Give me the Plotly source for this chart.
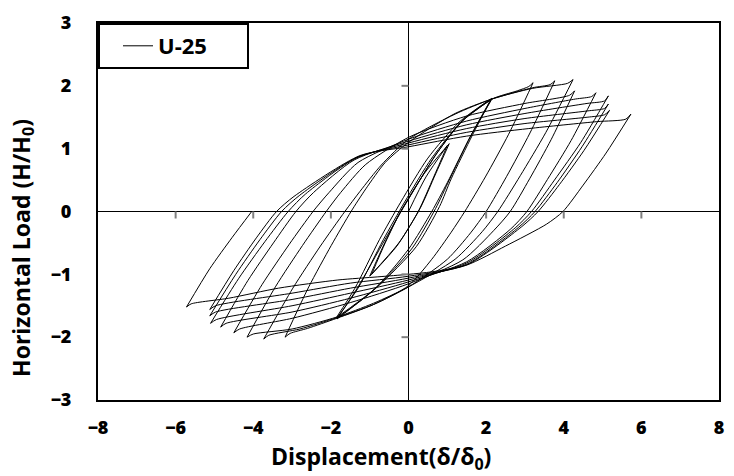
import plotly.graph_objects as go

# ---- hysteresis path, read point by point (displacement δ/δ0, load H/H0) ----
# small elastic cycles (±1), then three ±2 cycles
initial_x = [0.0, 0.45, 1.0, 0.65, 0.25, -0.3, -0.95, -0.6, -0.2, 0.4, 1.05, 0.7, 0.3, -0.25, -1.0, -0.65, -0.25,
             0.0, 0.7, 1.4, 2.15, 1.6, 1.0, 0.6, 0.0, -0.9, -1.85,
             -1.3, -0.65, -0.1, 0.6, 1.35, 2.12, 1.6, 1.05, 0.7, 0.1, -0.85, -1.86,
             -1.38, -0.75, -0.2, 0.5, 1.3, 2.14, 1.65, 1.1, 0.8, 0.2, -0.8, -1.84]
initial_y = [0.0, 0.55, 1.05, 0.55, 0.0, -0.55, -1.0, -0.5, 0.0, 0.6, 1.08, 0.6, 0.05, -0.5, -1.03, -0.55, -0.05,
             0.2, 0.9, 1.45, 1.79, 1.2, 0.46, 0.0, -0.6, -1.25, -1.7,
             -1.22, -0.45, 0.15, 0.85, 1.42, 1.78, 1.2, 0.5, 0.05, -0.58, -1.22, -1.69,
             -1.22, -0.45, 0.15, 0.85, 1.42, 1.8, 1.22, 0.52, 0.08, -0.56, -1.2, -1.71]

cycle1_x = [-1.3, -0.6, 0.0, 0.7, 1.4, 2.15, 2.8, 3.1, 3.21,
            2.58, 1.98, 1.45, 1.1, 0.6, 0.0, -0.9, -1.85, -2.6, -3.05, -3.18,
            -2.57, -1.99, -1.48]
cycle1_y = [-1.2, -0.44, 0.2, 0.9, 1.45, 1.79, 1.92, 1.99, 2.05,
            1.23, 0.55, 0.0, -0.33, -0.76, -1.18, -1.48, -1.7, -1.86, -1.94, -2.0,
            -1.2, -0.54, 0.0]

cycle2_x = [-1.1, -0.6, 0.0, 1.2, 2.15, 3.2, 3.65, 3.77,
            3.13, 2.53, 2.0, 1.6, 1.0, 0.0, -0.9, -1.85, -2.8, -3.6, -3.73,
            -2.98, -2.27, -1.64]
cycle2_y = [0.36, 0.78, 1.1, 1.56, 1.79, 1.97, 2.02, 2.08,
            1.25, 0.56, 0.0, -0.34, -0.76, -1.2, -1.48, -1.69, -1.87, -1.97, -2.03,
            -1.22, -0.55, 0.0]

cycle3_x = [-1.25, -0.7, 0.0, 1.2, 2.15, 3.2, 4.1, 4.24,
            3.54, 2.88, 2.3, 1.9, 1.2, 0.0, -0.9, -1.85, -3.0, -4.0, -4.16,
            -3.43, -2.73, -2.12]
cycle3_y = [0.32, 0.74, 1.15, 1.55, 1.79, 1.96, 2.04, 2.10,
            1.26, 0.57, 0.0, -0.32, -0.76, -1.2, -1.46, -1.68, -1.87, -1.95, -2.0,
            -1.2, -0.54, 0.0]

cycle4_x = [-1.75, -1.1, 0.0, 1.5, 3.0, 4.15, 4.28,
            3.68, 3.12, 2.62, 2.2, 1.4, 0.0, -1.5, -3.0, -4.35, -4.5,
            -3.77, -3.07, -2.46]
cycle4_y = [0.3, 0.75, 1.18, 1.52, 1.72, 1.85, 1.92,
            1.15, 0.52, 0.0, -0.3, -0.77, -1.15, -1.45, -1.7, -1.87, -1.93,
            -1.16, -0.52, 0.0]

cycle5_x = [-2.05, -1.3, 0.0, 1.5, 3.0, 4.3, 4.72, 4.83,
            4.19, 3.58, 3.05, 2.63, 1.5, 0.0, -1.5, -3.0, -4.7, -4.84,
            -4.14, -3.48, -2.90]
cycle5_y = [0.3, 0.78, 1.15, 1.44, 1.64, 1.79, 1.83, 1.89,
            1.13, 0.51, 0.0, -0.28, -0.8, -1.12, -1.38, -1.6, -1.78, -1.84,
            -1.1, -0.5, 0.0]

cycle6_x = [-2.45, -1.4, 0.0, 1.5, 3.0, 4.6, 5.05, 5.15,
            4.44, 3.76, 3.17, 2.75, 1.5, 0.0, -1.5, -3.0, -4.95, -5.10,
            -4.38, -3.7, -3.10]
cycle6_y = [0.3, 0.82, 1.12, 1.38, 1.56, 1.72, 1.76, 1.84,
            1.10, 0.50, 0.0, -0.26, -0.82, -1.09, -1.3, -1.5, -1.72, -1.78,
            -1.07, -0.48, 0.0]

cycle7_x = [-2.65, -1.35, 0.0, 1.5, 3.0, 4.6, 5.05, 5.15,
            4.47, 3.83, 3.26, 2.84, 1.5, 0.0, -1.5, -3.0, -4.97, -5.12,
            -4.45, -3.83, -3.27]
cycle7_y = [0.28, 0.85, 1.09, 1.32, 1.48, 1.6, 1.64, 1.71,
            1.03, 0.46, 0.0, -0.25, -0.84, -1.06, -1.22, -1.4, -1.6, -1.66,
            -1.0, -0.45, 0.0]

cycle8_x = [-2.8, -1.3, 0.0, 1.5, 3.0, 4.6, 5.05, 5.18,
            4.52, 3.89, 3.34, 2.92, 1.5, 0.0, -1.5, -3.0, -4.97, -5.12,
            -4.5, -3.92, -3.40]
cycle8_y = [0.26, 0.87, 1.06, 1.26, 1.4, 1.5, 1.54, 1.61,
            0.97, 0.43, 0.0, -0.24, -0.85, -1.03, -1.14, -1.3, -1.5, -1.56,
            -0.94, -0.42, 0.0]

cycle9_x = [-2.95, -1.25, 0.0, 1.5, 3.1, 4.85, 5.6, 5.73,
            5.09, 4.5, 3.98, 3.56, 2.5, 1.51, 0.6, 0.0, -0.79, -1.82, -3.35, -4.63, -5.6, -5.72,
            -5.12, -4.54, -4.04]
cycle9_y = [0.24, 0.89, 1.03, 1.2, 1.32, 1.43, 1.47, 1.55,
            0.93, 0.42, 0.0, -0.2, -0.55, -0.85, -0.96, -1.0, -1.04, -1.09, -1.22, -1.38, -1.47, -1.52,
            -0.91, -0.41, 0.0]

series_name = "U-25"

x_ticks = [-8, -6, -4, -2, 0, 2, 4, 6, 8]
y_ticks = [-3, -2, -1, 0, 1, 2, 3]
# small marks drawn on the axes that cross at the origin
cross_x_marks = [-6, -4, -2, 2, 4, 6]
cross_y_marks = [-2, -1, 1, 2]

disp = (initial_x + cycle1_x + cycle2_x + cycle3_x + cycle4_x + cycle5_x
        + cycle6_x + cycle7_x + cycle8_x + cycle9_x)
load = (initial_y + cycle1_y + cycle2_y + cycle3_y + cycle4_y + cycle5_y
        + cycle6_y + cycle7_y + cycle8_y + cycle9_y)

# split the path at every displacement reversal so each branch is smoothed
# on its own while the load peaks stay sharp
branches = []
start = 0
for i in range(1, len(disp) - 1):
    d_prev = disp[i] - disp[i - 1]
    d_next = disp[i + 1] - disp[i]
    if d_prev * d_next < 0:
        branches.append((disp[start:i + 1], load[start:i + 1]))
        start = i
branches.append((disp[start:], load[start:]))

FONT = "Open Sans"

fig = go.Figure()
for k, (bx, by) in enumerate(branches):
    fig.add_trace(go.Scatter(x=bx, y=by, mode="lines", name=series_name,
                             legendgroup="u25", showlegend=(k == 0),
                             line=dict(color="black", width=1, shape="spline", smoothing=0.7)))

shapes = []
for xv in cross_x_marks:
    shapes.append(dict(type="line", xref="x", yref="y", ysizemode="pixel", yanchor=0,
                       x0=xv, x1=xv, y0=-7, y1=0, line=dict(color="#808080", width=2)))
for yv in cross_y_marks:
    shapes.append(dict(type="line", yref="y", xref="x", xsizemode="pixel", xanchor=0,
                       y0=yv, y1=yv, x0=-7, x1=0, line=dict(color="#808080", width=2)))

axis_common = dict(showgrid=False, zeroline=True, zerolinecolor="black", zerolinewidth=1,
                   showline=True, mirror=True, linecolor="black", linewidth=2,
                   ticks="", tickfont=dict(family=FONT, size=18, color="black", weight=800))

fig.update_layout(
    width=734, height=476,
    margin=dict(l=98, r=10, t=18, b=76),
    paper_bgcolor="white", plot_bgcolor="white",
    xaxis=dict(range=[-8, 8], tickvals=x_ticks, ticklabelstandoff=10, **axis_common),
    yaxis=dict(range=[-3, 3], tickvals=y_ticks, ticklabelstandoff=21, **axis_common),
    shapes=shapes,
    showlegend=True,
    legend=dict(x=0, y=1, xanchor="left", yanchor="top", bgcolor="white",
                orientation="h", entrywidth=84, indentation=20,
                bordercolor="black", borderwidth=2, itemwidth=30,
                font=dict(family=FONT, size=22, color="black", weight="bold")),
    annotations=[
        dict(text="<b>Displacement(δ/δ<sub>0</sub>)</b>", xref="paper", yref="paper",
             x=0.455, y=-0.153, xanchor="center", yanchor="middle", showarrow=False,
             font=dict(family=FONT, size=23, color="black")),
        dict(text="<b>Horizontal Load (H/H<sub>0</sub>)</b>", xref="paper", yref="paper",
             x=-0.122, y=0.404, xanchor="center", yanchor="middle", textangle=-90,
             showarrow=False, font=dict(family=FONT, size=23, color="black")),
    ],
)

fig.write_html("out.html")
